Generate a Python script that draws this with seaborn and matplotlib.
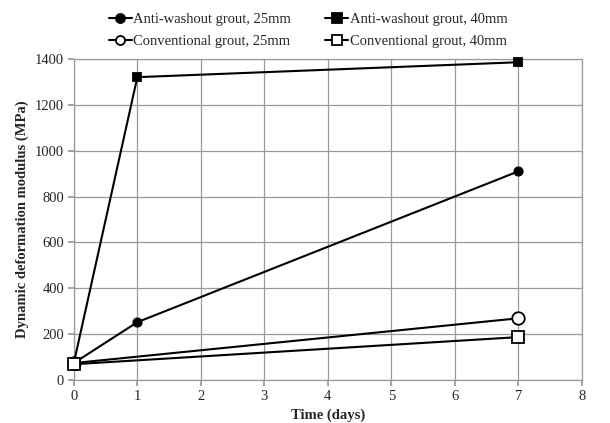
import numpy as np
import pandas as pd
import matplotlib
matplotlib.use('Agg')
import matplotlib.pyplot as plt
import seaborn as sns

days_aw25 = [0, 1, 7]
aw25 = [75, 253, 910]
days_aw40 = [0, 1, 7]
aw40 = [75, 1320, 1385]
days_cg25 = [0, 7]
cg25 = [75, 270]
days_cg40 = [0, 7]
cg40 = [70, 188]

labels = ['Anti-washout grout, 25mm', 'Anti-washout grout, 40mm',
          'Conventional grout, 25mm', 'Conventional grout, 40mm']

sns.set_theme(style="whitegrid")
plt.rcParams['font.family'] = ['Liberation Serif', 'DejaVu Serif']

fig, ax = plt.subplots(figsize=(6.1, 4.23), dpi=100)
fig.subplots_adjust(left=0.121, right=0.954, top=0.861, bottom=0.101)

series = [
    (days_aw25, aw25, 'o', 'black', 6),
    (days_aw40, aw40, 's', 'black', 6),
    (days_cg25, cg25, 'o', 'white', 9),
    (days_cg40, cg40, 's', 'white', 9),
]
for (x, y, m, fc, ms), lab in zip(series, labels):
    df = pd.DataFrame({'x': x, 'y': y})
    sns.lineplot(data=df, x='x', y='y', ax=ax, color='black', lw=1.5,
                 marker=m, markersize=ms, markerfacecolor=fc,
                 markeredgecolor='black', markeredgewidth=1.3, label=lab,
                 clip_on=False, zorder=3)

ax.set_xlim(0, 8)
ax.set_ylim(0, 1400)
ax.set_xticks(range(0, 9))
ax.set_yticks(range(0, 1401, 200))
ax.grid(True, color='#9a9a9a', lw=0.9)
for s in ax.spines.values():
    s.set_visible(True)
    s.set_color('#9a9a9a')
    s.set_linewidth(0.9)
ax.tick_params(axis='both', labelsize=10.5, length=4, color='#9a9a9a',
               direction='out', pad=3, left=True, bottom=True)
ax.set_xlabel('Time (days)', fontsize=10.5, fontweight='bold', labelpad=4)
ax.set_ylabel('Dynamic deformation modulus (MPa)', fontsize=10.5,
              fontweight='bold', labelpad=4)

h, l = ax.get_legend_handles_labels()
order = [0, 2, 1, 3]
leg = ax.legend([h[i] for i in order], [l[i] for i in order], ncol=2,
                loc='upper center', bbox_to_anchor=(0.505, 1.0),
                bbox_transform=fig.transFigure, frameon=False, fontsize=10.5,
                handlelength=1.6, handletextpad=0.1, columnspacing=2.3,
                labelspacing=0.6)
for hd in leg.legend_handles:
    hd.set_markersize(6.5)

fig.savefig('out.png', dpi=100)
